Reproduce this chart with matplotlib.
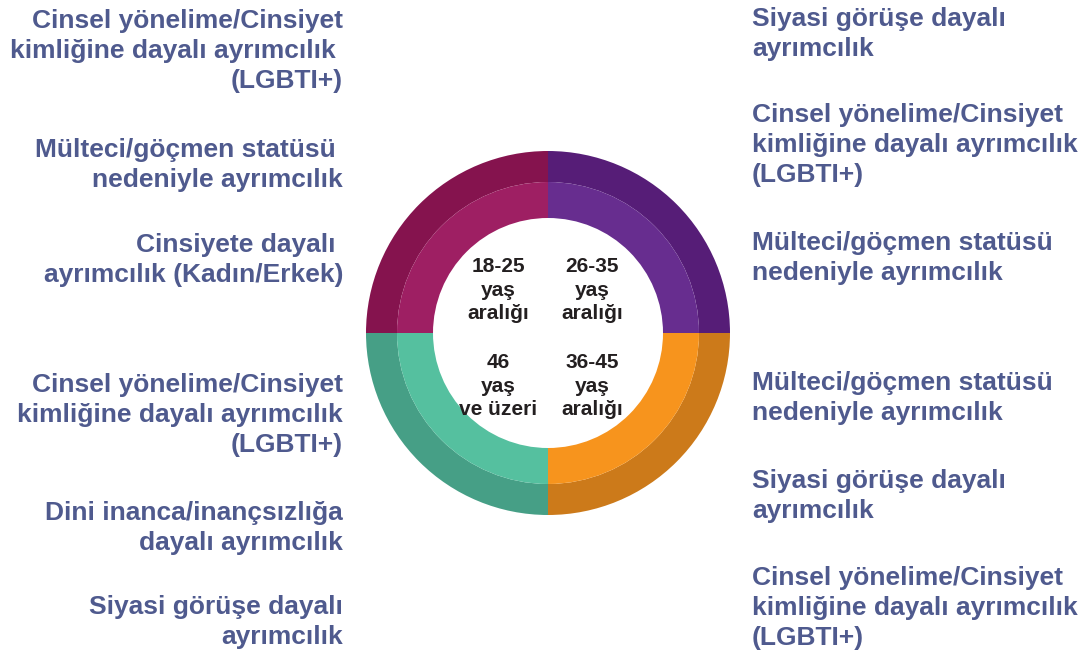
import matplotlib.pyplot as plt

# age groups, clockwise from 12 o'clock
age_groups = ["26-35\nyaş\naralığı", "36-45\nyaş\naralığı", "46\nyaş\nve üzeri", "18-25\nyaş\naralığı"]
shares = [1, 1, 1, 1]
outer_colors = ["#561D77", "#CC7A1A", "#469F86", "#85134E"]
inner_colors = ["#672D8F", "#F7941D", "#55C09F", "#9E1F63"]

left_labels = [
    "Cinsel yönelime/Cinsiyet\nkimliğine dayalı ayrımcılık \n(LGBTI+)",
    "Mülteci/göçmen statüsü \nnedeniyle ayrımcılık",
    "Cinsiyete dayalı \nayrımcılık (Kadın/Erkek)",
    "Cinsel yönelime/Cinsiyet\nkimliğine dayalı ayrımcılık\n(LGBTI+)",
    "Dini inanca/inançsızlığa\ndayalı ayrımcılık",
    "Siyasi görüşe dayalı\nayrımcılık",
]
right_labels = [
    "Siyasi görüşe dayalı\nayrımcılık",
    "Cinsel yönelime/Cinsiyet\nkimliğine dayalı ayrımcılık\n(LGBTI+)",
    "Mülteci/göçmen statüsü\nnedeniyle ayrımcılık",
    "Mülteci/göçmen statüsü\nnedeniyle ayrımcılık",
    "Siyasi görüşe dayalı\nayrımcılık",
    "Cinsel yönelime/Cinsiyet\nkimliğine dayalı ayrımcılık\n(LGBTI+)",
]
left_y = [51, 165, 260, 415, 528, 622]
right_y = [34, 145, 258, 398, 496, 608]

W, H = 1091, 659
fig = plt.figure(figsize=(W / 100, H / 100), dpi=100)
ax = fig.add_axes([0, 0, 1, 1])

cx, cy = 548, H - 333
ax.pie(shares, colors=outer_colors, radius=182, center=(cx, cy), startangle=90,
       counterclock=False, wedgeprops=dict(width=31, linewidth=0))
ax.pie(shares, colors=inner_colors, radius=151, center=(cx, cy), startangle=90,
       counterclock=False, wedgeprops=dict(width=36, linewidth=0))
ax.set_xlim(0, W)
ax.set_ylim(0, H)
ax.set_aspect("auto")
ax.axis("off")

txt = "#4F5A8E"
font = ["Liberation Sans", "DejaVu Sans"]
centers = [(592, 290), (592, 386), (498, 386), (498, 290)]
for lab, (x, y) in zip(age_groups, centers):
    ax.text(x, H - y, lab, ha="center", va="center", fontsize=15, fontweight="bold",
            color="#231F20", family=font, linespacing=1.32)

for lab, y in zip(left_labels, left_y):
    ax.text(343, H - y, lab, ha="right", va="center", fontsize=19, fontweight="bold",
            color=txt, family=font, linespacing=1.3)
for lab, y in zip(right_labels, right_y):
    ax.text(752, H - y, lab, ha="left", va="center", fontsize=19, fontweight="bold",
            color=txt, family=font, linespacing=1.3)

fig.savefig("out.png", dpi=100)
